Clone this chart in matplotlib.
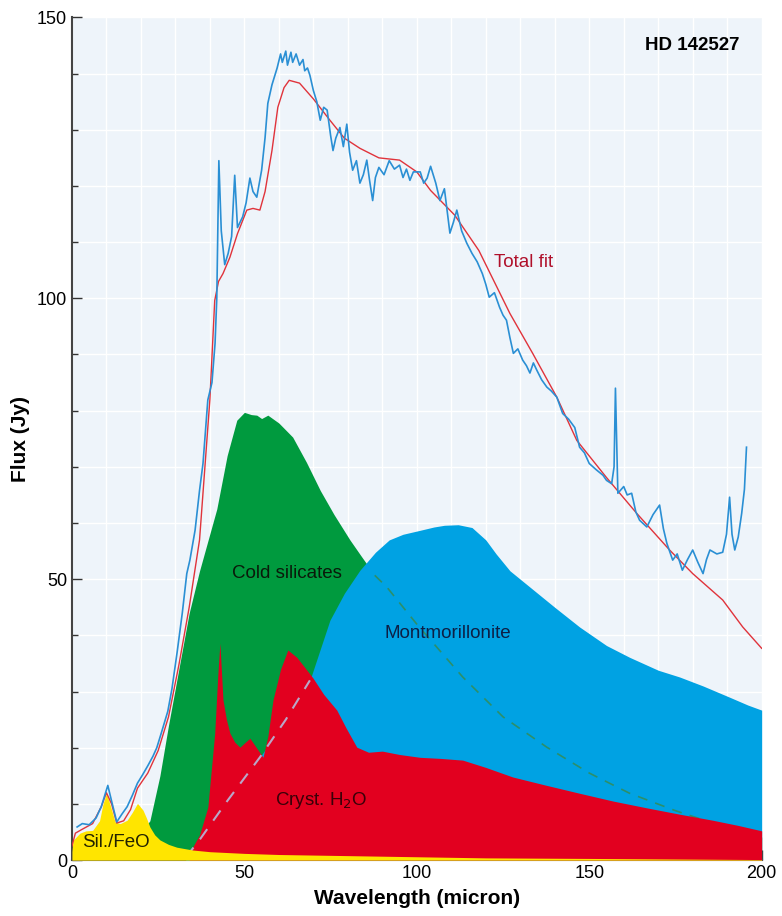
import numpy as np
import matplotlib.pyplot as plt

plt.rcParams['font.family'] = ['Liberation Sans', 'DejaVu Sans']

# observed spectrum (blue line)
obs_x = [1.5, 3, 5, 7, 8.5, 10.4, 11.5, 13, 14.5, 16, 17.5, 19, 20.5, 22, 23.5, 24.6, 26, 27.8,
         29, 30.5, 32, 33.3, 34.2, 35.7, 37, 38, 39.4, 40.6, 41.5, 42, 42.6, 43.3, 44.3, 45.3, 46.3, 47.2, 48, 49.5,
         50.5, 51.6, 52.5, 53.6, 55, 56, 56.8, 58, 59.5, 60.5, 61, 62, 62.5, 63.5, 64, 65, 66, 67, 67.5, 68.3, 69, 70, 71,
         72, 73, 74, 75, 75.7, 76.5, 77.7, 78.7, 79.7, 80.5, 81.4, 82.5, 83.5, 84.5, 85.5, 86.3, 87.2,
         88, 89, 90.5, 92, 93.5, 95, 96, 97, 98, 99, 101, 102, 103, 104, 105.5, 106.7, 108, 109.6, 110.6, 111.6,
         113, 114.5, 116, 117.5, 119, 120, 121, 122.5, 124, 125, 126, 127, 128, 129.3, 130.7, 131.8,
         132.8, 133.8, 134.8, 136.2, 137.7, 139, 140.6, 142.3, 144, 145.8, 147.2, 148.6, 150, 152,
         154, 155, 156.5, 157.2, 157.6, 158.3, 160, 161, 162.3, 163.5, 164.6, 166.7, 168.5, 170.4,
         171.5, 172.5, 174.2, 175.5, 177, 178.5, 180, 181.5, 183, 184, 185, 187, 188.7, 189.8,
         190.7, 191.4, 192.2, 193.2, 194.2, 195, 195.6]
obs_y = [5.9, 6.5, 6.3, 7.5, 9.5, 13.3, 10.5, 6.8, 8.2, 9.5, 11.5, 13.7, 15.2, 16.8, 18.5, 20, 22.8, 26.5,
         30.5, 37, 44, 51, 53.4, 58.7, 65.8, 70.6, 81.9, 85, 92, 100, 124.5, 112, 106, 108, 111, 121.9, 112.6, 114.5,
         117, 121.4, 119, 118, 122.8, 128.6, 134.7, 138, 141, 143.5, 142, 144, 141.5, 143.8, 142, 143.5, 141.5, 142.5, 140.5, 141, 139.7, 137, 135,
         131.7, 134, 133.5, 129, 126.3, 128.5, 130.4, 127, 131, 126, 122.8, 124.5, 120.5, 122, 124.6, 121, 117.4,
         121.5, 123.3, 122, 124.5, 123, 123.7, 121.5, 123, 121, 122.5, 122.5, 120.5, 121.4, 123.5, 120.5, 117.4, 119.5, 111.6, 113.5, 115.7,
         112, 109.8, 108, 106.5, 104.4, 102.5, 100.2, 101, 98.4, 97, 96.1, 93, 90.2, 91, 89, 88,
         86.7, 88.5, 87.2, 85.5, 84.2, 83.5, 82.4, 79.5, 78.5, 77, 73.5, 72.5, 70.6, 69.5,
         68.5, 67.6, 67, 70, 84, 65.3, 66.5, 65, 65.3, 62, 60.5, 59.3, 61.5, 63.2,
         59, 56.4, 53.4, 54.5, 51.6, 53.5, 55.2, 53, 51, 53.5, 55.2, 54.5, 54.8, 58,
         64.6, 58, 55.2, 57.5, 61.7, 66, 73.5]

# total fit (red line)
fit_x = [0, 1, 3, 6, 8.5, 10, 11.5, 13, 15, 17, 19, 22, 25, 28, 31, 34, 37, 40, 41.4, 42.5, 43.8,
         45.8, 48, 50.7, 52.5, 54.5, 56, 58, 59.7, 61.5, 63, 66, 70, 74.8, 79, 83.5, 89, 95, 100,
         104, 111, 118, 127, 133.6, 140.6, 146.4, 155, 163.8, 173.3, 180, 188.7, 194.5, 200]
fit_y = [2.5, 4.8, 5.5, 6.5, 9.5, 12, 10, 6.6, 7, 9, 12.8, 15.5, 19.5, 25.5, 34.7, 45, 57, 82, 99.6, 103, 104.4,
         107.3, 111.5, 115.7, 116, 115.7, 119, 126.3, 134, 137.5, 138.8, 138.3, 135.5, 131.7, 128.5, 126.7, 125, 124.6, 122.5,
         119.2, 114.8, 108.5, 97.3, 90.2, 82.4, 74.7, 68.1, 61.7, 55.2, 51, 46.3, 41.5, 37.7]

# cold silicates (green)
cold_x = [20, 22.6, 25.5, 28, 31, 34, 37, 42, 45, 47.8, 50, 52, 53.6, 55, 56.8, 60, 64, 68, 72, 76,
          80.6, 84, 87.8, 91.3, 100, 113.3, 125, 137.7, 150, 161.7, 175, 185.8, 200]
cold_y = [5, 7, 15, 24, 34, 44, 51.5, 62.5, 72, 78.3, 79.7, 79.3, 79.2, 78.6, 79.2, 77.8, 75.3, 70.8, 65.8, 61.5,
          57, 54, 50.7, 48.6, 42, 32.6, 25.5, 20.1, 15.5, 11.9, 8.8, 6.6, 4.1]

# montmorillonite (blue)
mont_x = [33, 37, 45, 54.5, 62, 69, 74.8, 79, 83.5, 88, 92, 96, 100.9, 105, 108, 112, 116, 120,
          123, 127, 132.8, 140, 147.2, 155, 161.7, 170, 176.2, 183, 190.7, 196, 200]
mont_y = [0.5, 3.6, 10.5, 18.3, 25, 32, 42.7, 47.5, 51.6, 54.8, 57, 58, 58.7, 59.3, 59.6, 59.7, 59.2, 57,
          54.5, 51.5, 48.6, 45, 41.5, 38.2, 36.1, 33.8, 32.6, 31, 29, 27.6, 26.7]

# crystalline water ice (red)
h2o_x = [34, 35, 37, 39.4, 41.4, 42.3, 42.9, 43.4, 43.8, 44.8, 45.8, 47.2, 48.7, 50.3, 51.6, 53.5, 55.4,
         56.8, 58.3, 60.5, 62.6, 65.2, 67.5, 69.9, 73, 76.8, 79.5, 82.6, 86, 90, 95, 100.9, 107,
         113.3, 120, 127.8, 137, 147.2, 157, 166.7, 176, 185.8, 193, 199.4, 200]
h2o_y = [0.5, 2.3, 4.5, 9.4, 22.6, 33, 38.6, 33, 28.5, 25, 22.6, 21, 20.1, 21, 21.7, 20, 18.3,
         22, 28.5, 34, 37.4, 36.1, 34.3, 32.4, 29.5, 26.7, 23.5, 20.1, 19.2, 19.4, 18.8, 18.3, 18.1,
         17.8, 16.5, 14.8, 13.4, 11.9, 10.5, 9.3, 8.2, 7.1, 6.2, 5.3, 5.2]

# Sil./FeO (yellow)
sil_x = [0, 0.3, 2.3, 4, 6, 8, 9, 10, 11, 12.5, 14, 16, 17.5, 19, 20.6, 21.6, 22.6, 24, 25.5, 28,
         30.4, 35, 40, 50, 60, 80, 100, 120, 150, 200]
sil_y = [1.5, 3.5, 4.8, 5.2, 5.3, 7, 10, 11.9, 10, 6.8, 6.5, 7.1, 8.5, 10.1, 8.9, 7.5, 5.9, 4.5, 3.6, 2.8,
         2.3, 1.8, 1.5, 1.2, 1.0, 0.8, 0.6, 0.4, 0.3, 0.1]

fig = plt.figure(figsize=(7.82, 9.16), dpi=100)
ax = fig.add_axes([0.092, 0.061, 0.882, 0.92])
ax.set_facecolor('#eef4fa')
ax.set_xlim(0, 200)
ax.set_ylim(0, 150)
ax.set_xticks(np.arange(0, 201, 10), minor=True)
ax.set_yticks(np.arange(0, 151, 10), minor=True)
ax.set_xticks([0, 50, 100, 150, 200])
ax.set_yticks([0, 50, 100, 150])
ax.grid(True, which='both', color='white', linewidth=1.0)
ax.set_axisbelow(True)

cx = np.array(cold_x)
cy = np.array(cold_y)
mx = np.array(mont_x)
my = np.array(mont_y)

ax.fill_between(cold_x, cold_y, color='#009a3e', lw=0, zorder=2)
ax.fill_between(mont_x, mont_y, color='#00a2e3', lw=0, zorder=3)
# hidden part of the cold silicate curve, dashed over the blue
ax.plot(cx[cx >= 87.8], cy[cx >= 87.8], color='#2c8f6a', ls=(0, (6, 5)), lw=1.2, zorder=3.5)
ax.fill_between(h2o_x, h2o_y, color='#e2001f', lw=0, zorder=4)
# hidden part of the montmorillonite curve, dashed over the red
ax.plot(mx[mx <= 70], my[mx <= 70], color='#b8a7c8', ls=(0, (6, 5)), lw=1.5, zorder=4.5)
ax.fill_between(sil_x, sil_y, color='#ffe500', lw=0, zorder=5)

ax.plot(fit_x, fit_y, color='#e0333b', lw=1.0, zorder=6)
ax.plot(obs_x, obs_y, color='#2a8fd4', lw=1.2, zorder=7)

ax.text(180, 145, 'HD 142527', fontsize=13.5, fontweight='bold', ha='center', va='center', zorder=8)
ax.text(122.5, 106.3, 'Total fit', fontsize=13.5, color='#b0102a', va='center', zorder=8)
ax.text(46.5, 51, 'Cold silicates', fontsize=13.5, color='#0a1a0a', va='center', zorder=8)
ax.text(90.5, 40.4, 'Montmorillonite', fontsize=13.5, color='#0d1f45', va='center', zorder=8)
ax.text(59, 10.7, 'Cryst. H$_2$O', fontsize=13.5, color='#3a0008', va='center', zorder=8)
ax.text(3, 3.1, 'Sil./FeO', fontsize=13.5, color='#222200', va='center', zorder=8)

ax.set_xlabel('Wavelength (micron)', fontsize=15, fontweight='bold', labelpad=5)
ax.set_ylabel('Flux (Jy)', fontsize=15, fontweight='bold', labelpad=5)
ax.tick_params(which='both', direction='in', colors='#333333', labelsize=13, labelcolor='black')
ax.tick_params(which='major', length=7, width=1)
ax.tick_params(which='minor', length=4, width=1)
ax.spines['top'].set_visible(False)
ax.spines['right'].set_visible(False)
ax.spines['left'].set_color('#444444')
ax.spines['bottom'].set_color('#444444')
ax.spines['left'].set_linewidth(1.5)
ax.spines['bottom'].set_linewidth(1.5)

fig.savefig('out.png', dpi=100)
